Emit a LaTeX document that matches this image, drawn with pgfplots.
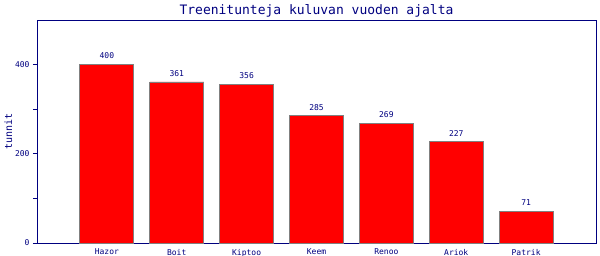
\documentclass[border=0pt]{standalone}
\usepackage{fontspec}
\setmainfont{DejaVu Sans Mono}
\usepackage{pgfplots}
\pgfplotsset{compat=1.18}
\definecolor{navy}{RGB}{0,0,128}
\begin{document}
\begin{tikzpicture}[x=1pt,y=1pt]
\useasboundingbox (0,0) rectangle (600,256);
\begin{axis}[
  at={(37pt,13pt)}, anchor=south west,
  scale only axis, width=559pt, height=223pt,
  xmin=-1, xmax=7, ymin=0, ymax=500,
  axis line style={navy, line width=0.9pt},
  xtick={0,1,2,3,4,5,6},
  xticklabels={Hazor,Boit,Kiptoo,Keem,Renoo,Ariok,Patrik},
  x tick style={draw=none},
  ytick={0,200,400},
  minor ytick={100,300},
  y tick style={navy, line width=0.8pt},
  tick align=outside, tickpos=left,
  major tick length=4pt, minor tick length=4pt,
  ticklabel style={font=\fontsize{8}{9}\selectfont, text=navy},
  /pgf/number format/assume math mode=true,
  xticklabel style={yshift=1.5pt},
  ylabel={tunnit}, ylabel style={font=\fontsize{10}{11}\selectfont, text=navy, yshift=-4pt},
  title={Treenitunteja kuluvan vuoden ajalta},
  title style={font=\fontsize{13}{14}\selectfont, text=navy, yshift=-7pt},
  ybar, bar width=54pt,
  nodes near coords,
  nodes near coords style={font=\fontsize{8}{9}\selectfont, text=navy, yshift=2pt},
  clip=false,
]
\addplot[fill=red, draw=gray, line width=0.8pt] coordinates {
(0,400) (1,361) (2,356) (3,285) (4,269) (5,227) (6,71)};
\end{axis}
\end{tikzpicture}
\end{document}
